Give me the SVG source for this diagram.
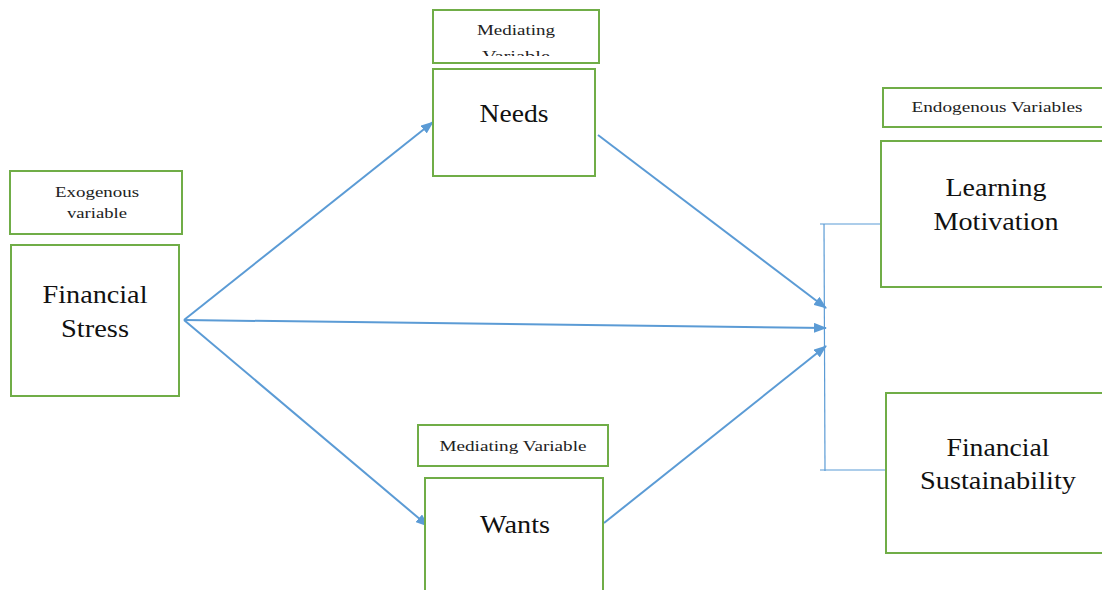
<svg xmlns="http://www.w3.org/2000/svg" width="1102" height="590" viewBox="0 0 1102 590">
<style>
.box{fill:#fff;stroke:#70ad47;stroke-width:2}
.big{font-family:"Liberation Serif","Times New Roman",serif;font-size:26px;fill:#111;text-anchor:middle}
.sm{font-family:"Liberation Serif","Times New Roman",serif;font-size:15px;fill:#222;text-anchor:middle}
.ln{stroke:#5b9bd5;stroke-width:2;fill:none}
.tl{stroke:#5b9bd5;stroke-width:1.2;fill:none}
</style>
<defs>
<marker id="ah" viewBox="0 0 13 10" refX="12" refY="5" markerWidth="13" markerHeight="10" markerUnits="userSpaceOnUse" orient="auto">
<path d="M0,0 L13,5 L0,10 Z" fill="#5b9bd5"/>
</marker>
<clipPath id="clipMed"><rect x="434" y="11" width="164" height="45"/></clipPath>
</defs>
<rect width="1102" height="590" fill="#fff"/>
<g id="connectors">
<line class="ln" x1="184" y1="320" x2="433" y2="122" marker-end="url(#ah)"/>
<line class="ln" x1="184" y1="320" x2="826" y2="328" marker-end="url(#ah)"/>
<line class="ln" x1="184" y1="320" x2="428" y2="526" marker-end="url(#ah)"/>
<line class="ln" x1="598" y1="135" x2="826" y2="308" marker-end="url(#ah)"/>
<line class="ln" x1="604" y1="523" x2="826" y2="346" marker-end="url(#ah)"/>
<line class="tl" x1="824" y1="224" x2="825" y2="471"/>
<line class="tl" x1="820" y1="224" x2="885" y2="224"/>
<line class="tl" x1="820" y1="470" x2="886" y2="470"/>
</g>
<g id="label-needs">
<rect class="box" x="433" y="10" width="166" height="53"/>
<g clip-path="url(#clipMed)">
<text class="sm" x="516" y="35" textLength="78" lengthAdjust="spacingAndGlyphs">Mediating</text>
<text class="sm" x="516" y="61" textLength="68" lengthAdjust="spacingAndGlyphs">Variable</text>
</g>
</g>
<g id="node-needs">
<rect class="box" x="433" y="69" width="162" height="107"/>
<text class="big" x="514" y="122" textLength="69" lengthAdjust="spacingAndGlyphs">Needs</text>
</g>
<g id="label-exo">
<rect class="box" x="10" y="171" width="172" height="63"/>
<text class="sm" x="97" y="197" textLength="84" lengthAdjust="spacingAndGlyphs">Exogenous</text>
<text class="sm" x="97" y="218" textLength="60" lengthAdjust="spacingAndGlyphs">variable</text>
</g>
<g id="node-fs">
<rect class="box" x="11" y="245" width="168" height="151"/>
<text class="big" x="95" y="303" textLength="105" lengthAdjust="spacingAndGlyphs">Financial</text>
<text class="big" x="95" y="337" textLength="68" lengthAdjust="spacingAndGlyphs">Stress</text>
</g>
<g id="label-endo">
<rect class="box" x="883" y="88" width="225" height="39"/>
<text class="sm" x="997" y="112" textLength="171" lengthAdjust="spacingAndGlyphs">Endogenous Variables</text>
</g>
<g id="node-lm">
<rect class="box" x="881" y="141" width="227" height="146"/>
<text class="big" x="996" y="196" textLength="101" lengthAdjust="spacingAndGlyphs">Learning</text>
<text class="big" x="996" y="230" textLength="125" lengthAdjust="spacingAndGlyphs">Motivation</text>
</g>
<g id="node-fsu">
<rect class="box" x="886" y="393" width="222" height="160"/>
<text class="big" x="998" y="456" textLength="103" lengthAdjust="spacingAndGlyphs">Financial</text>
<text class="big" x="998" y="489" textLength="156" lengthAdjust="spacingAndGlyphs">Sustainability</text>
</g>
<g id="label-wants">
<rect class="box" x="418" y="425" width="190" height="41"/>
<text class="sm" x="513" y="451" textLength="147" lengthAdjust="spacingAndGlyphs">Mediating Variable</text>
</g>
<g id="node-wants">
<rect class="box" x="425" y="478" width="178" height="120"/>
<text class="big" x="515" y="533" textLength="70" lengthAdjust="spacingAndGlyphs">Wants</text>
</g>
</svg>
